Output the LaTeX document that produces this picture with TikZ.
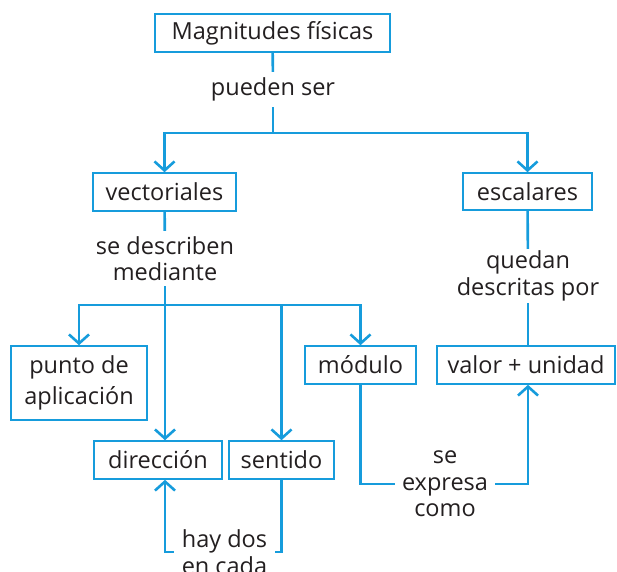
\documentclass[tikz,border=0pt]{standalone}
\usepackage{fontspec}
\setmainfont{Open Sans}
\usetikzlibrary{arrows.meta}
\definecolor{mapblue}{RGB}{22,156,220}
\definecolor{maptext}{RGB}{35,31,32}
\tikzset{
  concept/.style={draw=mapblue, line width=1.6pt, inner sep=0pt, align=center,
    text=maptext, font=\fontsize{23.5}{31}\selectfont},
  linkword/.style={inner sep=0pt, align=center, text=maptext,
    font=\fontsize{23.5}{26.5}\selectfont},
  conn/.style={draw=mapblue, line width=2.6pt},
  arr/.style={conn, -{Straight Barb[length=9pt,width=20pt]}}
}
\begin{document}
\begin{tikzpicture}[x=1pt, y=-1pt]
    \useasboundingbox (0,0) rectangle (617,571);
    % concepts
    \node[concept, minimum width=235, minimum height=38] (mag) at (272.5,33) {Magnitudes físicas};
    \node[concept, minimum width=143, minimum height=38] (vect) at (164.5,192) {vectoriales};
    \node[concept, minimum width=129, minimum height=37] (esc) at (527.5,191.5) {escalares};
    \node[concept, minimum width=136, minimum height=74] (punto) at (79,383) {punto de\\aplicación};
    \node[concept, minimum width=111, minimum height=38] (mod) at (360.5,365) {módulo};
    \node[concept, minimum width=178, minimum height=38] (val) at (526,365) {valor + unidad};
    \node[concept, minimum width=128, minimum height=38] (dir) at (158,460) {dirección};
    \node[concept, minimum width=105, minimum height=38] (sent) at (281.5,460) {sentido};
    % linking words
    \node[linkword, minimum height=35] (pueden) at (273,89.5) {pueden ser};
    \node[linkword, minimum height=55] (descr) at (165,258.5) {se describen\\mediante};
    \node[linkword, minimum height=54] (quedan) at (528,276) {quedan\\descritas por};
    \node[linkword, minimum width=100] (expresa) at (445,484) {se\\expresa\\como};
    \node[linkword, minimum width=101] (haydos) at (224.5,552) {hay dos\\en cada};
    \coordinate (j1) at (273,133);
    \coordinate (j2) at (165,305);
    % connectors
    \draw[conn] (mag) -- (pueden);
    \draw[conn] (pueden) -- (j1);
    \draw[arr] (j1) -| (vect);
    \draw[arr] (j1) -| (esc);
    \draw[conn] (vect) -- (descr);
    \draw[conn] (descr) -- (j2);
    \draw[arr] (j2) -| (punto);
    \draw[arr] (j2) -- (j2 |- dir.north);
    \draw[arr] (j2) -| (sent);
    \draw[arr] (j2) -| (mod);
    \draw[conn] (esc) -- (quedan);
    \draw[conn] (quedan) -- (quedan |- val.north);
    \draw[conn] (mod) |- (expresa);
    \draw[arr] (expresa) -| (quedan |- val.south);
    \draw[conn] (sent) |- (haydos);
    \draw[arr] (haydos) -| (j2 |- dir.south);
\end{tikzpicture}
\end{document}
